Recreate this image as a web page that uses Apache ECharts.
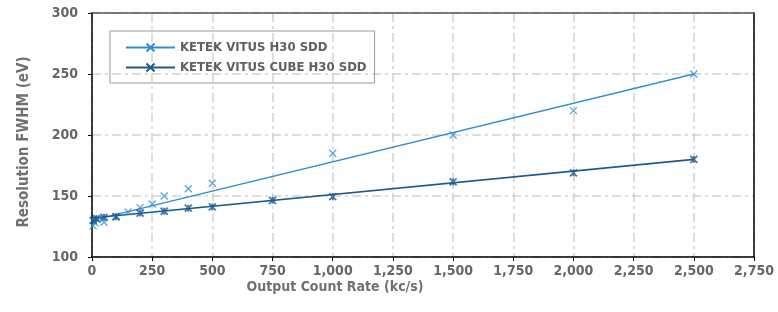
<!DOCTYPE html>
<html><head><meta charset="utf-8">
<script src="https://cdn.jsdelivr.net/npm/echarts@6/dist/echarts.min.js"></script>
<style>html,body{margin:0;padding:0;background:#fff}#c{width:778px;height:312px}</style>
</head><body><div id="c"></div>
<script>
var seriesNames = ['KETEK VITUS H30 SDD', 'KETEK VITUS CUBE H30 SDD'];
var h30Points = [[5,125.5],[12,128],[22,131],[50,128.5],[100,133],[150,137],[200,140.5],[250,143.5],[300,150],[400,156],[500,160.5],[1000,185],[1500,200],[2000,220],[2500,250]];
var cubePoints = [[5,130],[18,131.5],[50,132.5],[100,133],[200,136],[300,137.5],[400,140],[500,141],[750,146.5],[1000,149.5],[1500,161.5],[2000,169],[2500,180]];
var h30Trend = [[0,130],[2500,250]];
var cubeTrend = [[0,132],[2500,180]];
var xTicks = [0,250,500,750,1000,1250,1500,1750,2000,2250,2500,2750];
var yTicks = [100,150,200,250,300];

var FONT = '"DejaVu Sans Condensed","Liberation Sans Narrow","Open Sans",sans-serif';
var colors = ['#2f8fd0', '#1b5a8c'];
var xSym = 'path://M0,0L10,10M10,0L0,10';
var starSym = 'path://M0,0L10,10M10,0L0,10M5,0L5,10';
var gridLine = {show:true, lineStyle:{color:'#d2d2d2', width:1.5, type:[9,4,3,4]}};

var chart = echarts.init(document.getElementById('c'));
chart.setOption({
  animation:false,
  grid:{left:92, right:24, top:13, bottom:55, show:false},
  legend:{
    left:110, top:31, orient:'vertical', padding:[10,8,9,15],
    borderColor:'#999', borderWidth:1, itemWidth:49, itemHeight:10, itemGap:7,
    textStyle:{fontFamily:FONT, fontWeight:'bold', fontSize:13, color:'#606060'},
    data:seriesNames
  },
  xAxis:[{
    type:'value', min:xTicks[0], max:xTicks[xTicks.length-1], interval:250,
    axisLine:{show:true, onZero:false, lineStyle:{color:'#000', width:1.5}},
    axisTick:{show:true, length:4, lineStyle:{color:'#000'}},
    axisLabel:{margin:7, fontFamily:FONT, fontWeight:'bold', fontSize:14, color:'#666',
      formatter:function(v){return v.toLocaleString('en-US');}},
    splitLine:gridLine
  },{
    type:'value', position:'top', min:xTicks[0], max:xTicks[xTicks.length-1], interval:250,
    axisLine:{show:true, onZero:false, lineStyle:{color:'#555', width:1.5}},
    axisTick:{show:false}, axisLabel:{show:false}, splitLine:{show:false}
  }],
  yAxis:[{
    type:'value', min:yTicks[0], max:yTicks[yTicks.length-1], interval:50,
    axisLine:{show:true, onZero:false, lineStyle:{color:'#000', width:1.5}},
    axisTick:{show:true, length:4, lineStyle:{color:'#000'}},
    axisLabel:{margin:14, fontFamily:FONT, fontWeight:'bold', fontSize:14, color:'#666'},
    splitLine:gridLine
  },{
    type:'value', position:'right', min:yTicks[0], max:yTicks[yTicks.length-1], interval:50,
    axisLine:{show:true, onZero:false, lineStyle:{color:'#000', width:1.5}},
    axisTick:{show:false}, axisLabel:{show:false}, splitLine:{show:false}
  }],
  graphic:[
    {type:'text', x:24, y:142, rotation:Math.PI/2, style:{text:'Resolution FWHM (eV)', fontFamily:FONT, fontWeight:'bold', fontSize:15, fill:'#707070', align:'center', verticalAlign:'middle'}},
    {type:'text', x:335, y:287, style:{text:'Output Count Rate (kc/s)', fontFamily:FONT, fontWeight:'bold', fontSize:14, fill:'#707070', align:'center', verticalAlign:'middle'}}
  ],
  series:[
    {name:seriesNames[0], type:'line', data:h30Trend, showSymbol:false, symbol:xSym, symbolSize:8,
      lineStyle:{color:colors[0], width:1.3}, itemStyle:{color:'none', borderColor:colors[0], borderWidth:1.3}, z:2},
    {name:seriesNames[1], type:'line', data:cubeTrend, showSymbol:false, symbol:xSym, symbolSize:8,
      lineStyle:{color:colors[1], width:1.6}, itemStyle:{color:'none', borderColor:colors[1], borderWidth:1.6}, z:2},
    {name:seriesNames[0], type:'scatter', data:h30Points, symbol:xSym, symbolSize:7,
      itemStyle:{color:'none', borderColor:colors[0], borderWidth:1.3}, z:3},
    {name:seriesNames[1], type:'scatter', data:cubePoints, symbol:starSym, symbolSize:7,
      itemStyle:{color:'none', borderColor:colors[1], borderWidth:1.8}, z:4}
  ]
});
</script></body></html>
